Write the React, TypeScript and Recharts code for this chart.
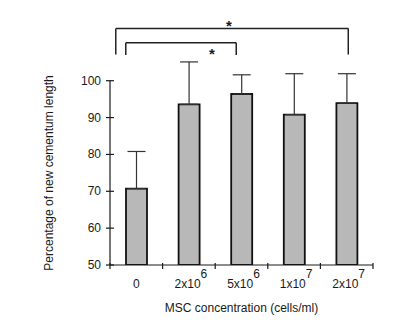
import React from 'react'
import {
  ComposedChart,
  Bar,
  XAxis,
  YAxis,
  ErrorBar,
  ReferenceLine,
  ReferenceDot,
} from 'recharts'

// concentrations: mantissa + exponent (superscript)
const labelBase = ['0', '2x10', '5x10', '1x10', '2x10']
const labelExp = ['', '6', '6', '7', '7']

// mean % of new cementum length and upper SD
const means = [70.7, 93.6, 96.4, 90.8, 93.9]
const sdUpper = [10.1, 11.5, 5.2, 11.1, 8.0]

const yTicks = [50, 60, 70, 80, 90, 100]

// significance brackets, x in group units (0..5), y in %
const bracketFrom = [0.11, 0.3]
const bracketTo = [4.53, 2.4]
const bracketTop = [114.2, 110.3]
const bracketLeg = [107.1, 107.0]
const starX = [2.26, 1.94]
const starY = [116.0, 108.3]

const FONT = 'Arial, "Liberation Sans", sans-serif'
const INK = '#1a1a1a'

const data = labelBase.map((b, i) => ({
  name: b + labelExp[i],
  idx: i,
  mean: means[i],
  err: [0, sdUpper[i]],
}))

function YTick(props: any) {
  const { x, y, payload } = props
  return (
    <g>
      <line x1={x - 4} x2={x + 4} y1={y} y2={y} stroke={INK} strokeWidth={1.2} />
      <text
        x={x - 9}
        y={y}
        dy={4}
        textAnchor="end"
        fontSize={12}
        fontFamily={FONT}
        fill={INK}
      >
        {payload.value}
      </text>
    </g>
  )
}

function XTick(props: any) {
  const { x, y, payload, index, width } = props
  const half = payload.offset ?? width / labelBase.length / 2
  const i = index
  return (
    <g>
      <line x1={x - half} x2={x - half} y1={y - 2} y2={y + 4} stroke={INK} strokeWidth={1.2} />
      {i === labelBase.length - 1 && (
        <line x1={x + half} x2={x + half} y1={y - 2} y2={y + 4} stroke={INK} strokeWidth={1.2} />
      )}
      <text
        x={labelExp[i] ? x + 2 : x}
        y={y + 23}
        textAnchor="middle"
        fontSize={12}
        fontFamily={FONT}
        fill={INK}
      >
        <tspan>{labelBase[i]}</tspan>
        {labelExp[i] && (
          <tspan dy={-10} fontSize={12}>
            {labelExp[i]}
          </tspan>
        )}
      </text>
    </g>
  )
}

function Star(props: any) {
  const { cx, cy } = props
  return (
    <text
      x={cx}
      y={cy}
      dy={9}
      textAnchor="middle"
      fontSize={15}
      fontWeight="bold"
      fontFamily={FONT}
      fill={INK}
    >
      *
    </text>
  )
}

export default function App() {
  return (
    <div style={{ position: 'absolute', left: 0, top: 0, background: '#fff' }}>
      <ComposedChart
        width={414}
        height={327}
        data={data}
        margin={{ top: 7, right: 41, left: 0, bottom: 32 }}
      >
        <XAxis
          xAxisId="cat"
          dataKey="name"
          height={30}
          axisLine={{ stroke: INK, strokeWidth: 1.2 }}
          tickLine={false}
          tickSize={0}
          tickMargin={0}
          interval={0}
          tick={<XTick />}
          label={{
            value: 'MSC concentration (cells/ml)',
            position: 'insideBottom',
            offset: -17,
            fontSize: 12,
            fontFamily: FONT,
            fill: INK,
          }}
        />
        <XAxis
          xAxisId="num"
          dataKey="idx"
          type="number"
          domain={[0, 5]}
          allowDataOverflow
          hide
        />
        <YAxis
          width={110}
          domain={[50, 120]}
          allowDataOverflow
          ticks={yTicks}
          axisLine={false}
          tickLine={false}
          tickSize={0}
          tickMargin={0}
          interval={0}
          tick={<YTick />}
          label={{
            content: () => (
              <text
                x={53}
                y={173}
                transform="rotate(-90 53 173)"
                textAnchor="middle"
                fontSize={12}
                fontFamily={FONT}
                fill={INK}
              >
                Percentage of new cementum length
              </text>
            ),
          }}
        />
        <ReferenceLine
          xAxisId="num"
          ifOverflow="visible"
          segment={[
            { x: 0, y: 50 },
            { x: 0, y: 100 },
          ]}
          stroke={INK}
          strokeWidth={1.2}
        />
        <Bar
          xAxisId="cat"
          dataKey="mean"
          fill="#b8b8b8"
          stroke="#111"
          strokeWidth={1.8}
          barSize={21}
          isAnimationActive={false}
        >
          <ErrorBar
            dataKey="err"
            direction="y"
            width={9}
            stroke="#333"
            strokeWidth={1.2}
            isAnimationActive={false}
          />
        </Bar>
        {bracketFrom.map((f, i) => (
          <ReferenceLine
            key={'b' + i}
            xAxisId="num"
            ifOverflow="visible"
            segment={[
              { x: f, y: bracketTop[i] },
              { x: bracketTo[i], y: bracketTop[i] },
            ]}
            stroke="#222"
            strokeWidth={1.5}
          />
        ))}
        {bracketFrom.map((f, i) => (
          <ReferenceLine
            key={'l' + i}
            xAxisId="num"
            ifOverflow="visible"
            segment={[
              { x: f, y: bracketLeg[i] },
              { x: f, y: bracketTop[i] },
            ]}
            stroke="#222"
            strokeWidth={1.5}
          />
        ))}
        {bracketTo.map((t, i) => (
          <ReferenceLine
            key={'r' + i}
            xAxisId="num"
            ifOverflow="visible"
            segment={[
              { x: t, y: bracketTop[i] },
              { x: t, y: bracketLeg[i] },
            ]}
            stroke="#222"
            strokeWidth={1.5}
          />
        ))}
        {starX.map((sx, i) => (
          <ReferenceDot
            key={'s' + i}
            xAxisId="num"
            x={sx}
            y={starY[i]}
            r={0}
            ifOverflow="visible"
            shape={<Star />}
          />
        ))}
      </ComposedChart>
    </div>
  )
}
